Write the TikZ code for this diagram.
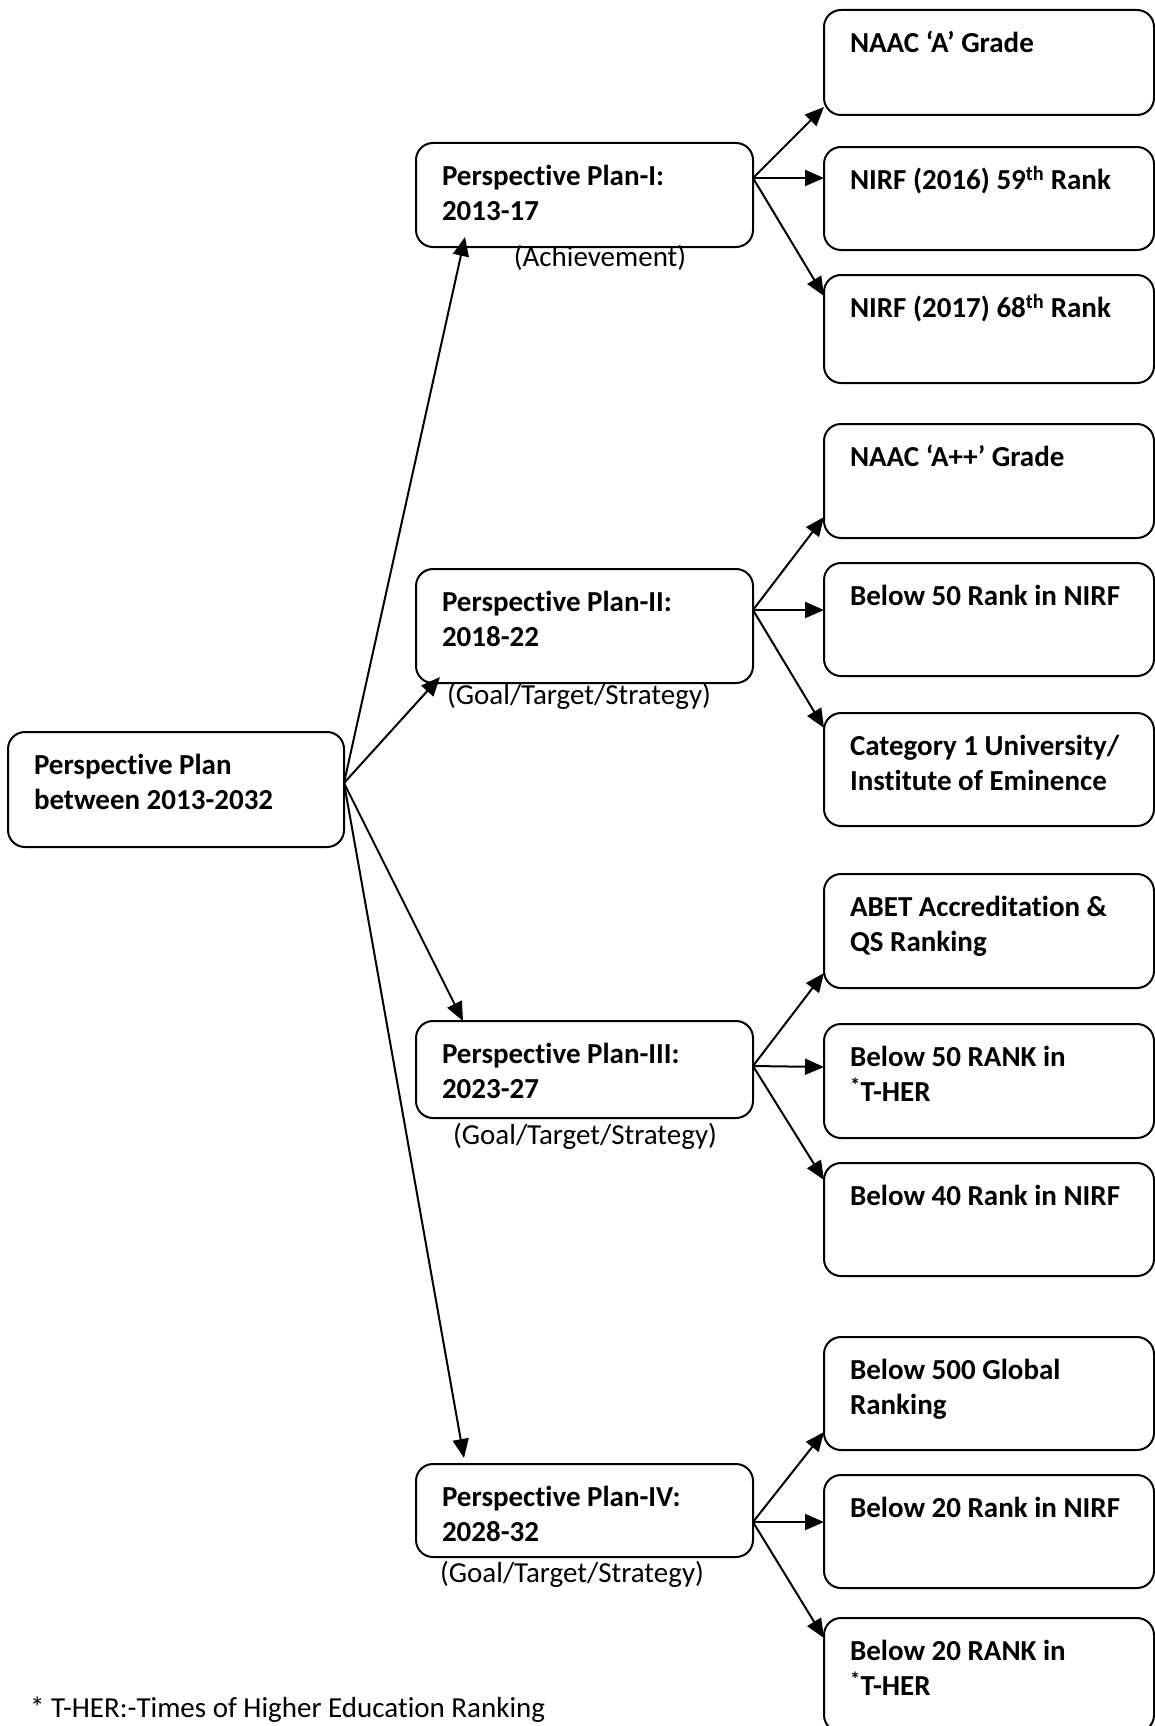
\documentclass[tikz,border=0pt]{standalone}
\usepackage{fontspec}
\setmainfont{Carlito}[Ligatures={TeX,NoCommon}]
\usetikzlibrary{arrows.meta}
\tikzset{
  planbox/.style={draw, line width=2pt, rounded corners=17pt, anchor=north west,
    inner xsep=26pt, inner ysep=18pt, outer sep=0pt,
    font=\bfseries\fontsize{29}{35}\selectfont},
  conn/.style={line width=2pt, -{Triangle[length=19pt,width=16pt]}},
  sublabel/.style={font=\fontsize{29}{35}\selectfont, inner sep=0pt, anchor=base}
}
\newcommand{\boxnode}[6]{%
  \pgfmathsetmacro{\bxw}{#4-#2-52}%
  \pgfmathsetmacro{\bxh}{#5-#3-36}%
  \node[planbox] (#1) at (#2,#3) {\parbox[c][\bxh pt][t]{\bxw pt}{\raggedright\strut #6}};%
}
\begin{document}
\begin{tikzpicture}[x=1pt,y=-1pt]
\useasboundingbox (0,0) rectangle (1155,1726);
\fill[white] (0,0) rectangle (1155,1726);
\clip (0,0) rectangle (1155,1726);
% root and plans
\boxnode{root}{8}{732}{344}{847}{Perspective Plan\\between 2013-2032}
\boxnode{p1}{416}{143}{753}{247}{Perspective Plan-I:\\2013-17}
\boxnode{p2}{416}{569}{753}{683}{Perspective Plan-II:\\2018-22}
\boxnode{p3}{416}{1021}{753}{1118}{Perspective Plan-III:\\2023-27}
\boxnode{p4}{416}{1464}{753}{1557}{Perspective Plan-IV:\\2028-32}
% outcome boxes
\boxnode{r11}{824}{10}{1154}{115}{NAAC ‘A’ Grade}
\boxnode{r12}{824}{147}{1154}{250}{NIRF (2016) 59\textsuperscript{th} Rank}
\boxnode{r13}{824}{275}{1154}{383}{NIRF (2017) 68\textsuperscript{th} Rank}
\boxnode{r21}{824}{424}{1154}{538}{NAAC ‘A++’ Grade}
\boxnode{r22}{824}{563}{1154}{676}{Below 50 Rank in NIRF}
\boxnode{r23}{824}{713}{1154}{826}{Category 1 University/\\Institute of Eminence}
\boxnode{r31}{824}{874}{1154}{988}{ABET Accreditation \&\\QS Ranking}
\boxnode{r32}{824}{1024}{1154}{1138}{Below 50 RANK in\\\textsuperscript{*}T-HER}
\boxnode{r33}{824}{1163}{1154}{1276}{Below 40 Rank in NIRF}
\boxnode{r41}{824}{1337}{1154}{1450}{Below 500 Global\\Ranking}
\boxnode{r42}{824}{1475}{1154}{1588}{Below 20 Rank in NIRF}
\boxnode{r43}{824}{1618}{1154}{1732}{Below 20 RANK in\\\textsuperscript{*}T-HER}
% labels
\node[sublabel] (l1) at (600,266) {(Achievement)};
\node[sublabel] (l2) at (579,704) {(Goal/Target/Strategy)};
\node[sublabel] (l3) at (585,1144) {(Goal/Target/Strategy)};
\node[sublabel] (l4) at (572,1582) {(Goal/Target/Strategy)};
\node[sublabel, anchor=base west] (fn) at (30,1717) {* T-HER:-Times of Higher Education Ranking};
% connectors from root
\coordinate (hub) at ([yshift=6.5pt]root.east);
\draw[conn] (hub) -- ([xshift=49pt,yshift=10pt]p1.south west);
\draw[conn] (hub) -- ([xshift=24pt,yshift=6pt]p2.south west);
\draw[conn] (hub) -- ([xshift=47pt]p3.north west);
\draw[conn] (hub) -- ([xshift=48pt,yshift=6pt]p4.north west);
% plan I
\coordinate (o1) at ([yshift=17pt]p1.east);
\draw[conn] (o1) -- ([yshift=8pt]r11.south west);
\draw[conn] (o1) -- ([yshift=20.5pt]r12.west);
\draw[conn] (o1) -- ([yshift=-21pt]r13.north west);
% plan II
\coordinate (o2) at ([yshift=16pt]p2.east);
\draw[conn] (o2) -- ([yshift=21pt]r21.south west);
\draw[conn] (o2) -- ([yshift=9.5pt]r22.west);
\draw[conn] (o2) -- ([yshift=-15pt]r23.north west);
% plan III
\coordinate (o3) at ([yshift=3.5pt]p3.east);
\draw[conn] (o3) -- ([yshift=15pt]r31.south west);
\draw[conn] (o3) -- ([yshift=14pt]r32.west);
\draw[conn] (o3) -- ([yshift=-17pt]r33.north west);
% plan IV
\coordinate (o4) at ([yshift=-11.5pt]p4.east);
\draw[conn] (o4) -- ([yshift=18pt]r41.south west);
\draw[conn] (o4) -- ([yshift=9.5pt]r42.west);
\draw[conn] (o4) -- ([yshift=-20pt]r43.north west);
\end{tikzpicture}
\end{document}
